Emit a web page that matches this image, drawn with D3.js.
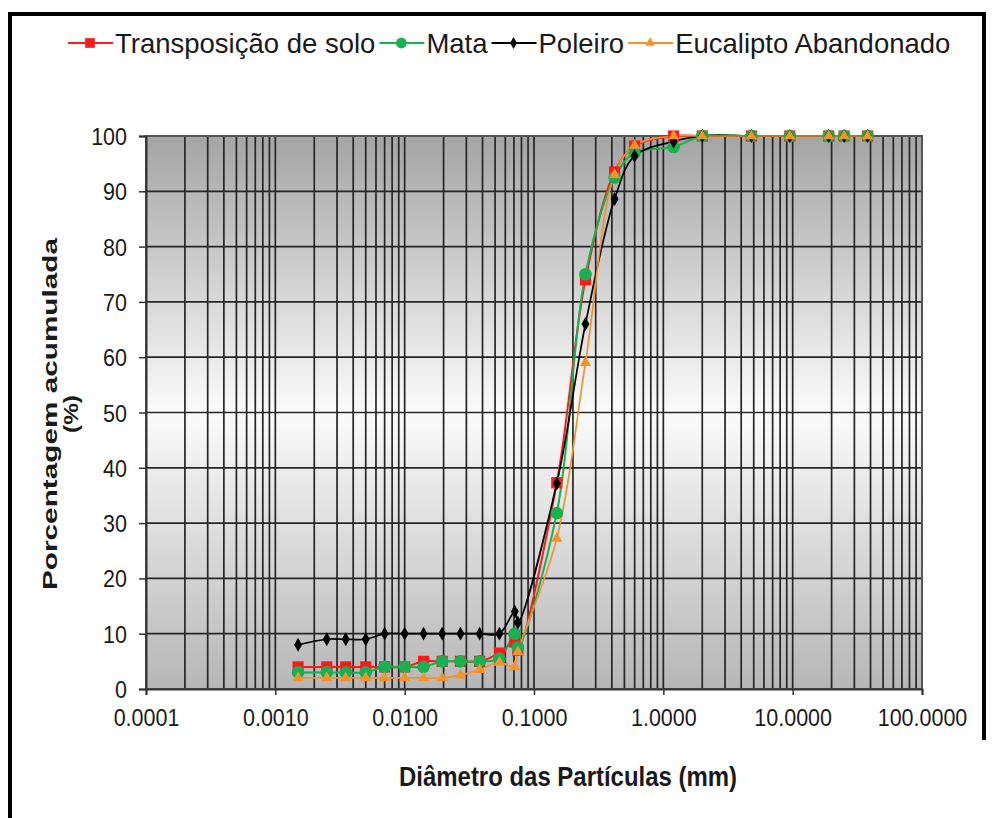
<!DOCTYPE html>
<html>
<head>
<meta charset="utf-8">
<script src="https://cdn.jsdelivr.net/npm/d3@7"></script>
<style>
  body { margin: 0; background: #fff; }
  text { font-family: "Liberation Sans", Arial, sans-serif; }
</style>
</head>
<body>
<svg id="chart" width="992" height="818"></svg>
<script>
// Particle diameters (mm): hydrometer readings followed by sieve openings
const diameters = [0.0015, 0.0025, 0.0035, 0.005, 0.007, 0.01, 0.014, 0.0195, 0.027, 0.038, 0.054,
                   0.071, 0.075, 0.15, 0.25, 0.42, 0.6, 1.2, 2.0, 4.8, 9.5, 19, 25, 38];

// Cumulative passing (%) for each area
const transposicao = [4, 4, 4, 4, 4, 4, 5, 5, 5, 5, 6.5, 8.5, 7, 37.3, 74, 93.5, 98.2, 100, 100, 100, 100, 100, 100, 100];
const mata         = [3, 3, 3, 3, 4, 4, 4, 5, 5, 5, 5.5, 10, 7.5, 31.8, 75, 92.5, 97, 98, 100, 100, 100, 100, 100, 100];
const poleiro      = [8, 9, 9, 9, 10, 10, 10, 10, 10, 10, 10, 14, 12, 37.2, 66, 88.6, 96.4, 99, 100, 100, 100, 100, 100, 100];
const eucalipto    = [2, 2, 2, 2, 2, 2, 2, 2, 2.5, 3.5, 4.8, 4, 6.7, 27.2, 59, 93, 98.3, 100, 100, 100, 100, 100, 100, 100];

const seriesNames  = ["Transposição de solo", "Mata", "Poleiro", "Eucalipto Abandonado"];
const xTickValues  = [0.0001, 0.001, 0.01, 0.1, 1, 10, 100];
const yTickValues  = [0, 10, 20, 30, 40, 50, 60, 70, 80, 90, 100];

const series = [
  { name: seriesNames[0], values: transposicao, color: "#ff1a1a", symbol: d3.symbolSquare,   size: 125, width: 2 },
  { name: seriesNames[1], values: mata,         color: "#17b14f", symbol: d3.symbolCircle,   size: 125, width: 2 },
  { name: seriesNames[2], values: poleiro,      color: "#000000", symbol: d3.symbolDiamond,  size: 55,  width: 1.7 },
  { name: seriesNames[3], values: eucalipto,    color: "#f5922a", symbol: d3.symbolTriangle, size: 55,  width: 1.7 }
];

const svg = d3.select("#chart");
const stretchY = 1.15;

// Outer frame
svg.append("rect").attr("x", 0).attr("y", 0).attr("width", 992).attr("height", 818).attr("fill", "#fff");
svg.append("path")
  .attr("d", "M10,818 V14 H984 V740")
  .attr("fill", "none").attr("stroke", "#000").attr("stroke-width", 4);

const x = d3.scaleLog().domain([0.0001, 100]).range([146, 922]);
const y = d3.scaleLinear().domain([0, 100]).range([689, 136]);

// Plot background gradient
const defs = svg.append("defs");
const grad = defs.append("linearGradient").attr("id", "plotBg")
  .attr("x1", 0).attr("y1", 0).attr("x2", 0).attr("y2", 1);
grad.append("stop").attr("offset", "0%").attr("stop-color", "#a4a4a4");
grad.append("stop").attr("offset", "50%").attr("stop-color", "#fbfbfb");
grad.append("stop").attr("offset", "100%").attr("stop-color", "#b6b6b6");

svg.append("rect")
  .attr("x", x.range()[0]).attr("y", y.range()[1])
  .attr("width", x.range()[1] - x.range()[0]).attr("height", y.range()[0] - y.range()[1])
  .attr("fill", "url(#plotBg)");

// Grid lines
const grid = svg.append("g").attr("stroke", "#262626").attr("stroke-width", 1.7);
grid.selectAll("line.v").data(x.ticks()).join("line").attr("class", "v")
  .attr("x1", d => x(d)).attr("x2", d => x(d))
  .attr("y1", y.range()[1]).attr("y2", y.range()[0]);
grid.selectAll("line.h").data(yTickValues).join("line").attr("class", "h")
  .attr("x1", x.range()[0]).attr("x2", x.range()[1])
  .attr("y1", d => y(d)).attr("y2", d => y(d));

svg.append("rect")
  .attr("x", x.range()[0]).attr("y", y.range()[1])
  .attr("width", x.range()[1] - x.range()[0]).attr("height", y.range()[0] - y.range()[1])
  .attr("fill", "none").attr("stroke", "#555").attr("stroke-width", 2);

// Axes
const xAxis = svg.append("g").attr("transform", `translate(0,${y.range()[0]})`)
  .call(d3.axisBottom(x).tickValues(xTickValues).tickFormat(d3.format(".4f")).tickSize(6));
const yAxis = svg.append("g").attr("transform", `translate(${x.range()[0]},0)`)
  .call(d3.axisLeft(y).tickValues(yTickValues).tickSize(7));
[xAxis, yAxis].forEach(a => {
  a.select(".domain").attr("stroke", "#333").attr("stroke-width", 2);
  a.selectAll(".tick line").attr("stroke", "#333").attr("stroke-width", 1.5);
  a.selectAll(".tick text").attr("fill", "#1a1a1a")
    .attr("x", 0).attr("y", 0).attr("dy", null)
    .style("font-family", "'Liberation Sans', Arial, sans-serif").style("font-size", "21.5px");
});
xAxis.selectAll(".tick text").attr("transform", `translate(0,37) scale(1,${stretchY})`);
yAxis.selectAll(".tick text").attr("transform", `translate(-19,8.5) scale(1,${stretchY})`);

// Axis titles
svg.append("text")
  .attr("transform", `translate(568,786) scale(1,${stretchY})`).attr("text-anchor", "middle")
  .attr("font-size", 24).attr("font-weight", "bold").attr("fill", "#1a1a1a")
  .attr("textLength", 338).attr("lengthAdjust", "spacingAndGlyphs")
  .text("Diâmetro das Partículas (mm)");
const yTitle = svg.append("g").attr("transform", "translate(57,414) rotate(-90)");
yTitle.append("text").attr("x", -176).attr("y", 0)
  .attr("font-size", 21).attr("font-weight", "bold").attr("fill", "#1a1a1a")
  .attr("textLength", 352).attr("lengthAdjust", "spacingAndGlyphs")
  .text("Porcentagem acumulada");
yTitle.append("text").attr("x", -19).attr("y", 21)
  .attr("font-size", 21).attr("font-weight", "bold").attr("fill", "#1a1a1a")
  .attr("textLength", 38).attr("lengthAdjust", "spacingAndGlyphs")
  .text("(%)");

// Series lines and markers
const line = d3.line().curve(d3.curveCatmullRom.alpha(0.5));
series.forEach(s => {
  const pts = diameters.map((d, i) => [x(d), y(s.values[i])]);
  svg.append("path").attr("d", line(pts))
    .attr("fill", "none").attr("stroke", s.color).attr("stroke-width", s.width);
});
series.forEach(s => {
  svg.append("g").selectAll("path").data(diameters.map((d, i) => [d, s.values[i]])).join("path")
    .attr("transform", d => `translate(${x(d[0])},${y(d[1])})`)
    .attr("d", d3.symbol().type(s.symbol).size(s.size))
    .attr("fill", s.color);
});

// Legend: items laid out one after another from the left
const legend = svg.append("g").attr("transform", "translate(0,43)");
let cursor = 68;
series.forEach(s => {
  const g = legend.append("g").attr("transform", `translate(${cursor},0)`);
  g.append("line").attr("x1", 0).attr("x2", 45).attr("stroke", s.color).attr("stroke-width", 2);
  g.append("path").attr("transform", "translate(22,0)")
    .attr("d", d3.symbol().type(s.symbol).size(s.size * 0.75)).attr("fill", s.color);
  const t = g.append("text").attr("x", 47).attr("y", 9.5)
    .attr("font-size", 27.5).attr("fill", "#1a1a1a").text(s.name);
  cursor += 47 + t.node().getComputedTextLength() + 4;
});
</script>
</body>
</html>
